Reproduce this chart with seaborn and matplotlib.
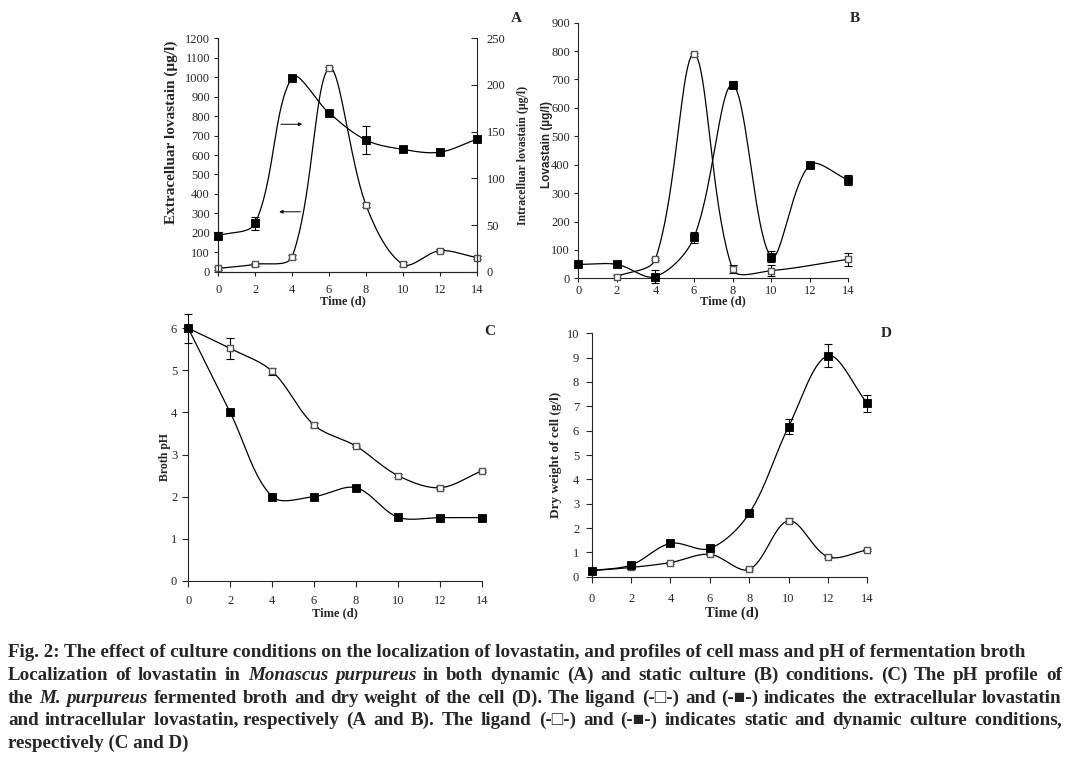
import numpy as np
import pandas as pd
import matplotlib
matplotlib.use("Agg")
import matplotlib.pyplot as plt
import seaborn as sns

# --- data ---
days = [0, 2, 4, 6, 8, 10, 12, 14]

# A: dynamic culture
a_extra = [17, 38, 77, 1046, 343, 38, 108, 72]          # open squares, left axis
a_extra_err = [8, 8, 10, 8, 8, 10, 8, 8]
a_intra = [38.6, 52, 208, 170, 141, 131, 128, 142]      # filled squares, right axis
a_intra_err = [4, 7, 2, 3, 15, 3, 2, 2]

# B: static culture
b_extra_days = [2, 4, 6, 8, 10, 14]
b_extra = [6, 68, 789, 32, 27, 67]
b_extra_err = [4, 5, 5, 15, 20, 22]
b_intra = [49, 49, 6, 144, 681, 76, 399, 346]
b_intra_err = [5, 10, 22, 20, 12, 20, 12, 18]

# C: broth pH
c_static = [6.0, 5.52, 4.98, 3.70, 3.20, 2.50, 2.21, 2.61]
c_static_err = [0.35, 0.25, 0.08, 0.04, 0.03, 0.04, 0.04, 0.03]
c_dynamic = [6.0, 4.0, 2.0, 2.0, 2.21, 1.51, 1.5, 1.5]
c_dynamic_err = [0.02, 0.03, 0.03, 0.03, 0.03, 0.03, 0.03, 0.03]

# D: dry weight of cell
d_static = [0.25, 0.38, 0.58, 0.92, 0.30, 2.30, 0.82, 1.10]
d_static_err = [0.03, 0.04, 0.04, 0.04, 0.04, 0.10, 0.04, 0.05]
d_dynamic = [0.25, 0.48, 1.37, 1.16, 2.60, 6.16, 9.08, 7.12]
d_dynamic_err = [0.03, 0.05, 0.04, 0.10, 0.10, 0.30, 0.48, 0.36]

W, H = 1079, 757
sns.set_style("ticks")
plt.rcParams['font.family'] = ['Liberation Serif', 'DejaVu Serif']
plt.rcParams['axes.linewidth'] = 0.8


def smooth(x, y, sx, sy, n=40):
    # Excel-like smoothed line, bezier control points worked out in pixel space
    x = np.asarray(x, float) * sx
    y = np.asarray(y, float) * sy
    P = np.column_stack([x, y])
    P = np.vstack([P[:1], P, P[-1:]])
    t = np.linspace(0, 1, n)[:, None]
    out = []
    for i in range(len(x) - 1):
        p0, p1, p2, p3 = P[i], P[i + 1], P[i + 2], P[i + 3]
        d01 = np.hypot(*(p1 - p0))
        d12 = np.hypot(*(p2 - p1))
        d23 = np.hypot(*(p3 - p2))
        c1 = p1 + (p2 - p0) * (d12 / (d01 + d12)) / 3
        c2 = p2 - (p3 - p1) * (d12 / (d12 + d23)) / 3
        b = (1 - t) ** 3 * p1 + 3 * (1 - t) ** 2 * t * c1 + 3 * (1 - t) * t ** 2 * c2 + t ** 3 * p2
        out.append(b)
    out = np.vstack(out)
    return out[:, 0] / sx, out[:, 1] / sy


def series(ax, x, y, err, filled, sx, sy):
    cx, cy = smooth(x, y, sx, sy)
    sns.lineplot(x=cx, y=cy, ax=ax, color='black', lw=0.9, sort=False,
                 estimator=None, clip_on=False)
    ax.errorbar(x, y, yerr=err, fmt='none', ecolor='black', elinewidth=0.8,
                capsize=3, capthick=0.8, clip_on=False, zorder=3)
    df = pd.DataFrame({'x': x, 'y': y})
    if filled:
        sns.scatterplot(data=df, x='x', y='y', ax=ax, marker='s', s=26,
                        color='black', edgecolor='black', linewidth=0.6,
                        zorder=4, clip_on=False)
    else:
        sns.scatterplot(data=df, x='x', y='y', ax=ax, marker='s', s=24,
                        color='white', edgecolor='#555555', linewidth=1.0,
                        zorder=4, clip_on=False)


def setup(ax, ymax, ystep, xpad, ypad, tlen=3):
    ax.set_xlim(0, 14)
    ax.set_ylim(0, ymax)
    ax.set_xticks(days)
    ax.set_yticks(np.arange(0, ymax + ystep / 2, ystep))
    ax.tick_params(labelsize=9, length=tlen, width=0.8)
    ax.tick_params(axis='x', pad=xpad)
    ax.tick_params(axis='y', pad=ypad)
    ax.spines['top'].set_visible(False)
    ax.spines['right'].set_visible(False)
    ax.set_xlabel('')
    ax.set_ylabel('')


def box(x0, y0, x1, y1):
    return [x0 / W, 1 - y1 / H, (x1 - x0) / W, (y1 - y0) / H]


fig = plt.figure(figsize=(W / 100, H / 100), dpi=100)

# ---- Panel A ----
A_box = (218.3, 38.3, 476.7, 271.7)
axA = fig.add_axes(box(*A_box))
axA2 = axA.twinx()
sxA = (A_box[2] - A_box[0]) / 14
hA = A_box[3] - A_box[1]
series(axA, days, a_extra, a_extra_err, False, sxA, hA / 1200)
series(axA2, days, a_intra, a_intra_err, True, sxA, hA / 250)
setup(axA, 1200, 100, xpad=6, ypad=3)
axA2.set_ylim(0, 250)
axA2.set_yticks(np.arange(0, 251, 50))
axA2.tick_params(labelsize=9, length=4, width=0.8, pad=7, direction='in')
axA2.spines['top'].set_visible(False)
axA2.set_ylabel('')
axA.annotate('', xy=(4.70, 758), xytext=(3.25, 758),
             arrowprops=dict(arrowstyle='-|>', color='black', lw=0.7, mutation_scale=5))
axA.annotate('', xy=(3.15, 308), xytext=(4.60, 308),
             arrowprops=dict(arrowstyle='-|>', color='black', lw=0.7, mutation_scale=5))

# ---- Panel B ----
B_box = (578.3, 22.7, 848.3, 278.3)
axB = fig.add_axes(box(*B_box))
sxB = (B_box[2] - B_box[0]) / 14
syB = (B_box[3] - B_box[1]) / 900
series(axB, b_extra_days, b_extra, b_extra_err, False, sxB, syB)
series(axB, days, b_intra, b_intra_err, True, sxB, syB)
setup(axB, 900, 100, xpad=2, ypad=3)

# ---- Panel C ----
C_box = (188.3, 328.3, 481.7, 580.7)
axC = fig.add_axes(box(*C_box))
sxC = (C_box[2] - C_box[0]) / 14
syC = (C_box[3] - C_box[1]) / 6
series(axC, days, c_static, c_static_err, False, sxC, syC)
series(axC, days, c_dynamic, c_dynamic_err, True, sxC, syC)
setup(axC, 6, 1, xpad=6, ypad=4, tlen=4)

# ---- Panel D ----
D_box = (591.7, 333.3, 867.3, 576.7)
axD = fig.add_axes(box(*D_box))
sxD = (D_box[2] - D_box[0]) / 14
syD = (D_box[3] - D_box[1]) / 10
series(axD, days, d_static, d_static_err, False, sxD, syD)
series(axD, days, d_dynamic, d_dynamic_err, True, sxD, syD)
setup(axD, 10, 1, xpad=8, ypad=5, tlen=4)


def ftext(x, y, s, **kw):
    return fig.text(x / W, 1 - y / H, s, **kw)


lab = dict(weight='bold', ha='center', va='center', rotation=90)
ftext(171.7, 132, 'Extracelluar lovastain (µg/l)', fontsize=11, **lab)
ftext(522.7, 155, 'Intracelluar lovastain (µg/l)', fontsize=8.5, **lab)
ftext(546.7, 144, 'Lovastain (µg/l)', family=['Liberation Sans', 'DejaVu Sans'],
      fontsize=8.5, **lab)
ftext(165, 457, 'Broth pH', fontsize=8.5, **lab)
ftext(556, 455, 'Dry weight of cell (g/l)', fontsize=9.5, **lab)
ftext(343.3, 301, 'Time (d)', fontsize=9, weight='bold', ha='center', va='center')
ftext(723.3, 301.5, 'Time (d)', fontsize=9, weight='bold', ha='center', va='center')
ftext(335, 613, 'Time (d)', fontsize=9, weight='bold', ha='center', va='center')
ftext(731.7, 613.3, 'Time (d)', fontsize=10.5, weight='bold', ha='center', va='center')

pl = dict(fontsize=11, weight='bold', ha='center', va='center')
ftext(516.7, 18.3, 'A', **pl)
ftext(855, 18, 'B', **pl)
ftext(490, 331.7, 'C', **pl)
ftext(886.7, 333.3, 'D', **pl)

# ---- caption (justified lines) ----
cap_lines = [
    ([("Fig. 2: The effect of culture conditions on the localization of lovastatin, "
       "and profiles of cell mass and pH of fermentation broth", 'normal')], False),
    ([("Localization of lovastatin in", 'normal'), ("Monascus purpureus", 'italic'),
      ("in both dynamic (A) and static culture (B) conditions. (C) The pH profile of", 'normal')], True),
    ([("the", 'normal'), ("M. purpureus", 'italic'),
      ("fermented broth and dry weight of the cell (D). The ligand (-\u25a1-) and (-\u25a0-) "
       "indicates the extracellular lovastatin", 'normal')], True),
    ([("and intracellular lovastatin, respectively (A and B). The ligand (-\u25a1-) and (-\u25a0-) "
       "indicates static and dynamic culture conditions,", 'normal')], True),
    ([("respectively (C and D)", 'normal')], False),
]
cap_y = [657, 680, 702.7, 725, 747.5]
cap_left, cap_right = 7.5, 1062
cap_kw = dict(fontsize=13.7, weight='bold', va='baseline', ha='left',
              family='Liberation Serif')

renderer = fig.canvas.get_renderer()


def width(s, style):
    t = ftext(0, 0, s, style=style, **cap_kw)
    w = t.get_window_extent(renderer).width
    t.remove()
    return w


def tokens(runs):
    # split into words, keeping a word that ends with a comma glued to the next one
    words = [[w, st] for s, st in runs for w in s.split()]
    out = []
    i = 0
    while i < len(words):
        w, st = words[i]
        if w.endswith(',') and i + 1 < len(words) and words[i + 1][1] == st:
            out.append([w + ' ' + words[i + 1][0], st])
            i += 2
            continue
        out.append([w, st])
        i += 1
    return out


for (runs, justify), y in zip(cap_lines, cap_y):
    if not justify:
        ftext(cap_left, y, runs[0][0], style=runs[0][1], **cap_kw)
        continue
    words = tokens(runs)
    widths = [width(w, st) for w, st in words]
    gap = (cap_right - cap_left - sum(widths)) / (len(words) - 1)
    x = cap_left
    for (w, st), ww in zip(words, widths):
        if w.endswith(','):
            # line-final comma: draw the word and its comma as two pieces
            body = w[:-1]
            ftext(round(x), y, body, style=st, **cap_kw)
            ftext(round(x + width(body, st)), y, ',', style=st, **cap_kw)
        else:
            ftext(round(x), y, w, style=st, **cap_kw)
        x += ww + gap

fig.savefig('out.png', dpi=100)
